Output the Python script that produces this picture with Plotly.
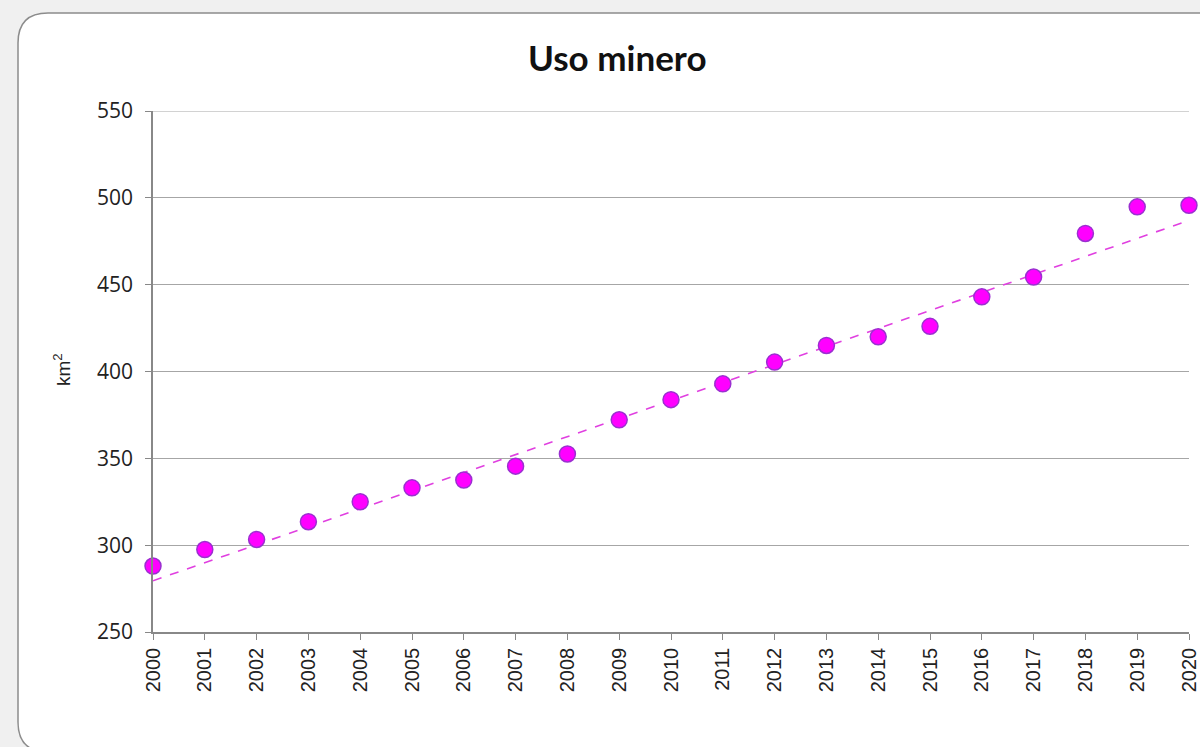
import plotly.graph_objects as go

years = list(range(2000, 2021))
values = [288, 297.5, 303.3, 313.5, 325, 333, 337.5, 345.5, 352.5, 372.2, 383.8, 392.9,
          405.4, 415, 420, 426, 443, 454.4, 479.5, 494.8, 495.7]
# dashed linear trend line, values read at 2000 and 2020
trend_years = [2000, 2020]
trend_values = [279.5, 487]
y_ticks = [250, 300, 350, 400, 450, 500, 550]
title_text = "Uso minero"
y_title = "km<sup>2</sup>"

W, H = 1200, 747
L, R, T, B = 153, 1189, 111, 632
pw, ph = R - L, B - T


def px(x):
    return (x - L) / pw


def py(y):
    return (B - y) / ph


fig = go.Figure()
fig.add_trace(go.Scatter(
    x=trend_years, y=trend_values, mode="lines",
    line=dict(color="#e040e0", width=1.6, dash="dash"),
    hoverinfo="skip", showlegend=False, cliponaxis=False))
fig.add_trace(go.Scatter(
    x=years, y=values, mode="markers",
    marker=dict(size=16, color="#ff00ff", line=dict(color="#9b30d0", width=1.5)),
    showlegend=False, cliponaxis=False))

# rounded chart-area frame
x0, x1, y0, y1 = 18, 1240, 13, 752
r = 30
rx, ry = r / pw, r / ph
X0, X1, Y0, Y1 = px(x0), px(x1), py(y0), py(y1)
path = (f"M {X0+rx},{Y0} L {X1-rx},{Y0} Q {X1},{Y0} {X1},{Y0-ry} "
        f"L {X1},{Y1+ry} Q {X1},{Y1} {X1-rx},{Y1} L {X0+rx},{Y1} "
        f"Q {X0},{Y1} {X0},{Y1+ry} L {X0},{Y0-ry} Q {X0},{Y0} {X0+rx},{Y0} Z")
fig.add_shape(type="path", path=path, xref="paper", yref="paper",
              fillcolor="white", line=dict(color="#8c8c8c", width=1.5), layer="below")
# top gridline at 550 (plotly hides a gridline on the range edge)
fig.add_shape(type="line", xref="paper", yref="y", x0=0, x1=1, y0=550, y1=550,
              line=dict(color="#a6a6a6", width=1), layer="below")

fig.add_annotation(text=f"<b>{title_text}</b>", x=px(617), y=py(57), xref="paper", yref="paper",
                   showarrow=False, font=dict(family="Lato", size=35, color="#111111"),
                   xanchor="center", yanchor="middle")
fig.add_annotation(text=y_title, x=px(62), y=py(370), xref="paper", yref="paper",
                   showarrow=False, textangle=-90, font=dict(family="Liberation Sans", size=19, color="#222222"),
                   xanchor="center", yanchor="middle")

fig.update_layout(
    width=W, height=H,
    margin=dict(l=L, r=W - R, t=T, b=H - B, autoexpand=False),
    paper_bgcolor="#f0f0f0", plot_bgcolor="white",
    xaxis=dict(range=[2000, 2020], tickmode="array", tickvals=years, ticktext=[str(y) for y in years],
               tickangle=-90, ticks="outside", ticklen=6, tickcolor="#888888", automargin=False,
               showline=True, linecolor="#888888", linewidth=1.5, showgrid=False, zeroline=False,
               tickfont=dict(family="Liberation Sans", size=20, color="#222222")),
    yaxis=dict(range=[250, 550], tickmode="array", tickvals=y_ticks, ticks="outside", ticklen=6,
               tickcolor="#888888", showline=True, linecolor="#888888", linewidth=1.5, automargin=False,
               showgrid=True, gridcolor="#a6a6a6", gridwidth=1, zeroline=False,
               tickfont=dict(family="Open Sans", size=21, color="#222222"), ticklabelstandoff=8),
)

fig.write_html("out.html", config={"displayModeBar": False},
               post_script="document.body.style.margin='0';document.body.style.overflow='hidden';")
